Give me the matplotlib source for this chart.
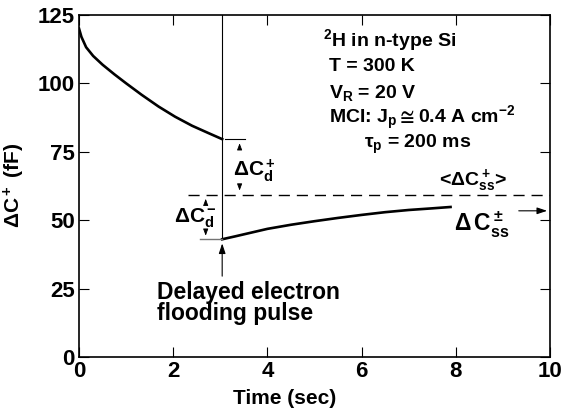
import matplotlib
matplotlib.use("Agg")
import matplotlib.pyplot as plt
import numpy as np

plt.rcParams['font.family'] = ['Liberation Sans', 'DejaVu Sans']
plt.rcParams['font.weight'] = 'bold'
plt.rcParams['axes.labelweight'] = 'bold'
plt.rcParams['mathtext.fontset'] = 'custom'
plt.rcParams['mathtext.rm'] = 'Liberation Sans:bold'
plt.rcParams['mathtext.it'] = 'Liberation Sans:bold'
plt.rcParams['mathtext.bf'] = 'Liberation Sans:bold'
plt.rcParams['mathtext.default'] = 'rm'

# decay before the flooding pulse
t_decay = [0.0, 0.05, 0.15, 0.3, 0.5, 0.75, 1.0, 1.33, 1.69, 2.04, 2.4, 2.75, 3.04]
c_decay = [120.0, 117.0, 113.2, 110.0, 106.8, 103.3, 100.0, 95.8, 91.5, 87.8, 84.5, 81.8, 79.6]

# recovery after the pulse
t_rise = [3.04, 3.3, 3.6, 4.0, 4.5, 5.0, 5.5, 6.0, 6.5, 7.0, 7.5, 7.89]
c_rise = [43.0, 44.0, 45.2, 46.8, 48.3, 49.6, 50.8, 51.9, 52.9, 53.7, 54.3, 54.8]

t_pulse = 3.04
c_ss_avg = 59.3

xticks = [0, 2, 4, 6, 8, 10]
yticks = [0, 25, 50, 75, 100, 125]

fig = plt.figure(figsize=(5.77, 4.15), dpi=100)
ax = fig.add_axes([0.137, 0.140, 0.816, 0.824])

ax.plot(t_decay, c_decay, color='black', lw=1.9)
ax.plot(t_rise, c_rise, color='black', lw=1.9)
ax.plot([t_pulse, t_pulse], [c_rise[0], 125], color='black', lw=0.8)

# dashed steady-state level
ax.plot([2.32, 10], [c_ss_avg, c_ss_avg], color='black', lw=1.0, dashes=(8, 5))

# short markers at ends of delta ranges
ax.plot([3.1, 3.53], [c_decay[-1], c_decay[-1]], color='black', lw=0.8)
ax.plot([2.57, t_pulse], [c_rise[0], c_rise[0]], color='0.45', lw=1.0)

ap = dict(arrowstyle='-|>,head_length=0.4,head_width=0.15', color='black', lw=0.6)
# dC_d+
ax.annotate('', xy=(3.41, c_decay[-1] - 0.5), xytext=(3.41, 75.5), arrowprops=ap)
ax.annotate('', xy=(3.41, c_ss_avg + 0.5), xytext=(3.41, 63), arrowprops=ap)
ax.text(3.72, 68.0, r'$\Delta$C$_\mathrm{d}^+$', fontsize=15, ha='center', va='center')
# dC_d-
ax.annotate('', xy=(2.69, c_ss_avg - 0.5), xytext=(2.69, 55.5), arrowprops=ap)
ax.annotate('', xy=(2.69, c_rise[0] + 0.3), xytext=(2.69, 46.5), arrowprops=ap)
ax.text(2.47, 50.5, r'$\Delta$C$_\mathrm{d}^-$', fontsize=15, ha='center', va='center')

# pulse arrow
ax.annotate('', xy=(t_pulse, c_rise[0] - 0.5), xytext=(t_pulse, 28.5),
            arrowprops=dict(arrowstyle='-|>,head_length=0.6,head_width=0.2', color='black', lw=0.8))
ax.text(1.66, 27.8, 'Delayed electron\nflooding pulse', fontsize=16.5, ha='left', va='top',
        linespacing=0.88)

# steady state labels
ax.text(8.36, 64.5, r'<$\Delta$C$_\mathrm{ss}^+$>', fontsize=14, ha='center', va='center')
ax.text(8.55, 48.3, r'$\Delta\,$C$_\mathrm{ss}^\pm$', fontsize=16.5, ha='center', va='center')
ax.annotate('', xy=(10, 53.4), xytext=(9.28, 53.4),
            arrowprops=dict(arrowstyle='-|>,head_length=0.6,head_width=0.2', color='black', lw=0.8))

# condition block
ax.text(5.19, 113.5, r'$^2$H in n-type Si', fontsize=14, ha='left', va='baseline')
ax.text(5.3, 104.5, 'T = 300 K', fontsize=14, ha='left', va='baseline')
ax.text(5.3, 94.5, r'V$_\mathrm{R}$ = 20 V', fontsize=14, ha='left', va='baseline')
ax.text(5.3, 85.5, r'MCI: J$_\mathrm{p}\cong$0.4 A cm$^{-2}$', fontsize=14, ha='left', va='baseline')
ax.text(6.05, 76.5, r'$\tau_\mathrm{p}$ = 200 ms', fontsize=14, ha='left', va='baseline')

ax.set_xlim(0, 10)
ax.set_ylim(0, 125)
ax.set_xticks(xticks)
ax.set_yticks(yticks)
ax.tick_params(direction='in', top=True, right=True, length=7, width=0.8, labelsize=16, pad=3)
for s in ax.spines.values():
    s.set_linewidth(1.2)
ax.set_xlabel('Time (sec)', fontsize=15)
ax.xaxis.set_label_coords(0.437, -0.095)
ax.set_ylabel(r'$\Delta$C$^+$ (fF)', fontsize=15)
ax.yaxis.set_label_coords(-0.11, 0.5)

fig.savefig('out.png', dpi=100)
